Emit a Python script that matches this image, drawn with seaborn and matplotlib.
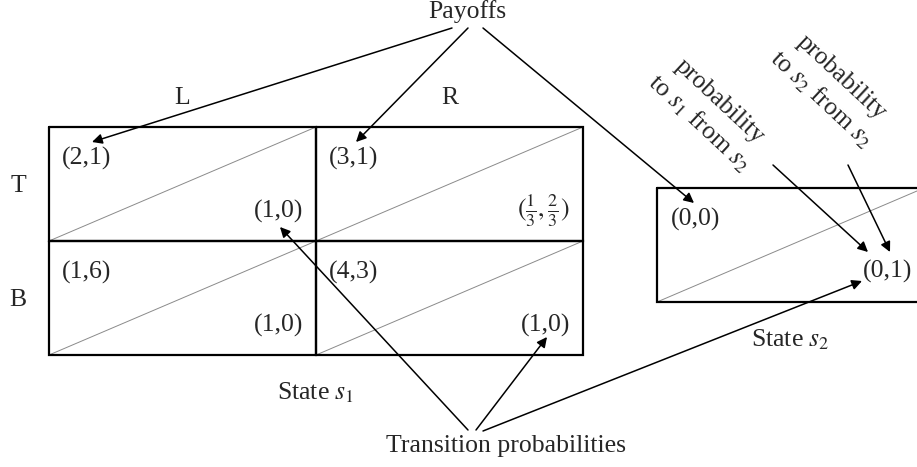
import numpy as np
import matplotlib
matplotlib.use("Agg")
import matplotlib.pyplot as plt
import seaborn as sns

# game data
row_labels = ["T", "B"]
col_labels = ["L", "R"]
payoffs_s1 = [["(2,1)", "(3,1)"],
              ["(1,6)", "(4,3)"]]
trans_s1 = [["(1,0)", r"$(\frac{1}{3},\frac{2}{3})$"],
            ["(1,0)", "(1,0)"]]
payoff_s2 = "(0,0)"
trans_s2 = "(0,1)"
state_names = [r"State $s_1$", r"State $s_2$"]
prob_labels = ["probability\n" + r"to $s_1$ from $s_2$",
               "probability\n" + r"to $s_2$ from $s_2$"]

sns.set_theme(style="white")
plt.rcParams["font.family"] = ["Liberation Serif", "DejaVu Serif"]
plt.rcParams["mathtext.fontset"] = "stix"
FS = 18.5

fig = plt.figure(figsize=(9.17, 4.67), dpi=100)
ax = fig.add_axes([0, 0, 1, 1])
ax.set_xlim(0, 917)
ax.set_ylim(467, 0)
ax.axis("off")

# geometry of the cells (pixels)
cw, ch = 267, 114
gx, gy = 49, 127          # state s1 grid origin
bx, by = 657, 188         # state s2 box origin

def cell(x, y):
    ax.plot([x, x + cw, x + cw, x, x], [y, y, y + ch, y + ch, y], color="black", lw=1.6,
            solid_joinstyle="miter", zorder=3)
    ax.plot([x, x + cw], [y + ch, y], color="#8a8a8a", lw=0.7, zorder=2)

pay_pos = {}
tr_pos = {}
for i in range(2):
    for j in range(2):
        x, y = gx + j * cw, gy + i * ch
        cell(x, y)
        ax.text(x + 13, y + 31, payoffs_s1[i][j], fontsize=FS, ha="left", va="center")
        ax.text(x + cw - 13, y + 84, trans_s1[i][j], fontsize=FS, ha="right", va="center")
        pay_pos[(i, j)] = (x + 13, y + 31)
        tr_pos[(i, j)] = (x + cw - 13, y + 84)

cell(bx, by)
ax.text(bx + 14, by + 31, payoff_s2, fontsize=FS, ha="left", va="center")
ax.text(bx + cw - 12, by + 83, trans_s2, fontsize=FS, ha="right", va="center")
pay_pos["s2"] = (bx + 14, by + 31)
tr_pos["s2"] = (bx + cw - 62, by + 83)

for j, lab in enumerate(col_labels):
    ax.text(gx + cw * (j + 0.5), gy - 29, lab, fontsize=FS, ha="center", va="center")
for i, lab in enumerate(row_labels):
    ax.text(18, gy + ch * (i + 0.5) + 2, lab, fontsize=FS, ha="center", va="center")

ax.text(gx + cw, gy + 2 * ch + 38, state_names[0], fontsize=FS, ha="center", va="center")
ax.text(bx + cw / 2, by + ch + 38, state_names[1], fontsize=FS, ha="center", va="center")

# headline labels
pay_c = (467, 12)
tp_c = (506, 446)
ax.text(*pay_c, "Payoffs", fontsize=FS, ha="center", va="center")
ax.text(*tp_c, "Transition probabilities", fontsize=FS, ha="center", va="center")

prob_c = [(709, 113), (831, 89)]
for (px, py), lab in zip(prob_c, prob_labels):
    ax.text(px, py, lab, fontsize=FS, ha="center", va="center", rotation=-43,
            rotation_mode="anchor", multialignment="center", linespacing=1.25)

def arrow(src, dst):
    ax.annotate("", xy=dst, xytext=src,
                arrowprops=dict(arrowstyle="-|>", color="black", lw=1.1,
                                mutation_scale=15, shrinkA=0, shrinkB=0), zorder=4)

# payoff arrows
arrow((pay_c[0] - 15, pay_c[1] + 16), (pay_pos[(0, 0)][0] + 30, pay_pos[(0, 0)][1] - 16))
arrow((pay_c[0] + 1, pay_c[1] + 16), (pay_pos[(0, 1)][0] + 27, pay_pos[(0, 1)][1] - 16))
arrow((pay_c[0] + 16, pay_c[1] + 16), (pay_pos["s2"][0] + 23, pay_pos["s2"][1] - 16))

# transition arrows
arrow((tp_c[0] - 38, tp_c[1] - 16), (tr_pos[(0, 0)][0] - 23, tr_pos[(0, 0)][1] + 16))
arrow((tp_c[0] - 30, tp_c[1] - 16), (tr_pos[(1, 1)][0] - 23, tr_pos[(1, 1)][1] + 12))
arrow((tp_c[0] - 23, tp_c[1] - 15), (tr_pos["s2"][0], tr_pos["s2"][1] + 10))

# probability arrows
arrow((prob_c[0][0] + 64, prob_c[0][1] + 52), (tr_pos["s2"][0] + 6, tr_pos["s2"][1] - 19))
arrow((prob_c[1][0] + 17, prob_c[1][1] + 76), (tr_pos["s2"][0] + 28, tr_pos["s2"][1] - 19))

fig.savefig("out.png", dpi=100)
